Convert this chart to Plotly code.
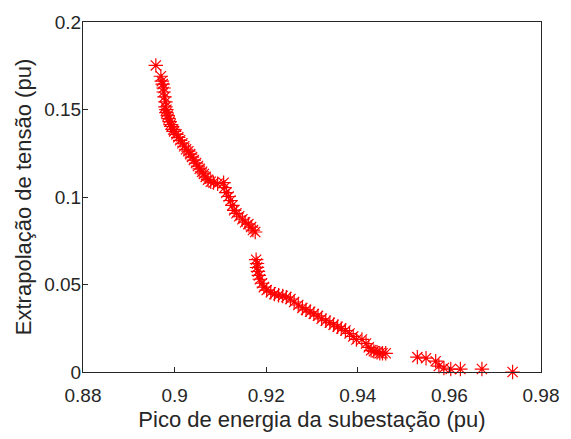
import plotly.graph_objects as go

# Pico de energia da subestação (pu)
peak = [
    0.8959, 0.8970, 0.8972, 0.8974, 0.8976, 0.8976, 0.8978, 0.8980, 0.8980, 0.8982,
    0.8982, 0.8985, 0.8987, 0.8989, 0.8991, 0.8993, 0.8997, 0.8999, 0.9004, 0.9008,
    0.9012, 0.9017, 0.9021, 0.9025, 0.9030, 0.9034, 0.9038, 0.9042, 0.9047, 0.9051,
    0.9055, 0.9060, 0.9064, 0.9068, 0.9073, 0.9079, 0.9085, 0.9094, 0.9107, 0.9109,
    0.9113, 0.9118, 0.9122, 0.9126, 0.9130, 0.9135, 0.9141, 0.9148, 0.9154, 0.9161,
    0.9167, 0.9171, 0.9176,
    0.9178, 0.9180, 0.9180, 0.9182, 0.9184, 0.9186, 0.9191, 0.9195, 0.9201, 0.9210,
    0.9218, 0.9227, 0.9236, 0.9244, 0.9253, 0.9261, 0.9270, 0.9279, 0.9287, 0.9296,
    0.9304, 0.9313, 0.9321, 0.9330, 0.9339, 0.9347, 0.9356, 0.9364, 0.9373, 0.9382,
    0.9390, 0.9397, 0.9409, 0.9418, 0.9424, 0.9429, 0.9435, 0.9442, 0.9448, 0.9454,
    0.9461,
    0.9530, 0.9549, 0.9570, 0.9577, 0.9588, 0.9603, 0.9624, 0.9671, 0.9738,
]

# Extrapolação de tensão (pu)
voltage = [
    0.1752, 0.1690, 0.1662, 0.1645, 0.1623, 0.1600, 0.1572, 0.1544, 0.1515, 0.1499,
    0.1482, 0.1465, 0.1448, 0.1431, 0.1414, 0.1403, 0.1386, 0.1375, 0.1358, 0.1341,
    0.1324, 0.1307, 0.1290, 0.1273, 0.1262, 0.1245, 0.1228, 0.1211, 0.1194, 0.1177,
    0.1161, 0.1144, 0.1132, 0.1115, 0.1099, 0.1087, 0.1082, 0.1076, 0.1082, 0.1054,
    0.1025, 0.1003, 0.0980, 0.0952, 0.0924, 0.0907, 0.0890, 0.0873, 0.0856, 0.0845,
    0.0828, 0.0811, 0.0800,
    0.0642, 0.0620, 0.0597, 0.0575, 0.0552, 0.0530, 0.0507, 0.0485, 0.0468, 0.0456,
    0.0445, 0.0439, 0.0434, 0.0428, 0.0417, 0.0400, 0.0383, 0.0366, 0.0355, 0.0344,
    0.0332, 0.0321, 0.0304, 0.0293, 0.0282, 0.0270, 0.0259, 0.0248, 0.0237, 0.0220,
    0.0203, 0.0186, 0.0186, 0.0163, 0.0141, 0.0124, 0.0118, 0.0113, 0.0107, 0.0107,
    0.0107,
    0.0085, 0.0079, 0.0062, 0.0034, 0.0023, 0.0017, 0.0017, 0.0017, 0.0000,
]

x_ticks = [0.88, 0.90, 0.92, 0.94, 0.96, 0.98]
x_labels = ["0.88", "0.9", "0.92", "0.94", "0.96", "0.98"]
y_ticks = [0, 0.05, 0.10, 0.15, 0.20]
y_labels = ["0", "0.05", "0.1", "0.15", "0.2"]

FONT = "Liberation Sans, Arial, sans-serif"
TXT = "#262626"

fig = go.Figure()
fig.add_trace(go.Scatter(
    x=peak, y=voltage, mode="markers",
    marker=dict(symbol="asterisk-open", size=12, color="#ff0000",
                line=dict(color="#ff0000", width=1.2)),
    showlegend=False, cliponaxis=False,
))

axis_common = dict(
    showline=True, linecolor=TXT, linewidth=1, mirror=True,
    ticks="inside", ticklen=5, tickcolor=TXT, tickwidth=1,
    showgrid=False, zeroline=False,
    tickfont=dict(family=FONT, size=19, color=TXT),
    title_font=dict(family=FONT, size=22, color=TXT),
)

fig.update_xaxes(range=[0.88, 0.98], tickvals=x_ticks, ticktext=x_labels,
                 title_text="Pico de energia da subestação (pu)", title_standoff=6,
                 ticklabelstandoff=6, **axis_common)
fig.update_yaxes(range=[0, 0.2], tickvals=y_ticks, ticktext=y_labels,
                 title_text="Extrapolação de tensão (pu)", title_standoff=6,
                 ticklabelstandoff=-3, **axis_common)

fig.update_layout(
    width=571, height=439,
    margin=dict(l=83, r=22, t=17, b=67),
    paper_bgcolor="white", plot_bgcolor="white",
)

fig.write_html("out.html")
